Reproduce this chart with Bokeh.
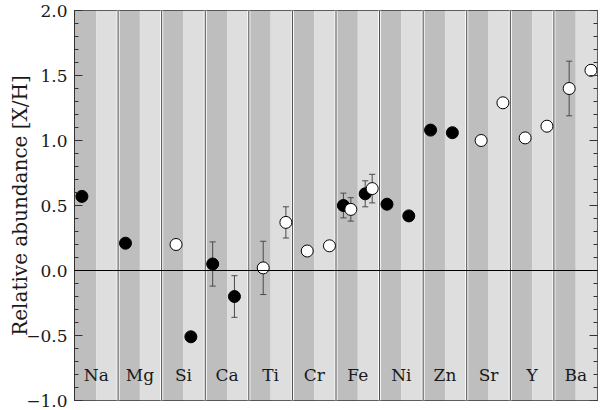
import numpy as np
from bokeh.plotting import figure
from bokeh.models import FixedTicker, Span, Range1d
from bokeh.core.properties import value
from bokeh.embed import file_html
from bokeh.resources import INLINE

# ---- data ----
elements = ["Na", "Mg", "Si", "Ca", "Ti", "Cr", "Fe", "Ni", "Zn", "Sr", "Y", "Ba"]

# filled (black) points: x in column units (element index + position inside column)
filled_x = [0.17, 1.17, 2.67, 3.17, 3.67, 6.17, 6.67, 7.17, 7.67, 8.17, 8.67]
filled_y = [0.57, 0.21, -0.51, 0.05, -0.20, 0.50, 0.59, 0.51, 0.42, 1.08, 1.06]
filled_err = [0.0, 0.0, 0.0, 0.17, 0.16, 0.095, 0.10, 0.0, 0.0, 0.0, 0.0]

# open (white) points
open_x = [2.33, 4.33, 4.85, 5.34, 5.85, 6.34, 6.83, 9.33, 9.83, 10.34, 10.84, 11.35, 11.85]
open_y = [0.20, 0.02, 0.37, 0.15, 0.19, 0.47, 0.63, 1.00, 1.29, 1.02, 1.11, 1.40, 1.54]
open_err = [0.0, 0.205, 0.12, 0.0, 0.0, 0.09, 0.11, 0.0, 0.0, 0.0, 0.0, 0.21, 0.0]

y_ticks = [-1.0, -0.5, 0.0, 0.5, 1.0, 1.5, 2.0]
y_tick_labels = ["\u22121.0", "\u22120.5", "0.0", "0.5", "1.0", "1.5", "2.0"]
y_minor = [round(v, 1) for v in np.arange(-1.0, 2.0001, 0.1)]
y_min, y_max = -1.0, 2.0
label_y = -0.80

DARK = "#bebebe"
LIGHT = "#dedede"
EDGE = "#333333"
FONT = "DejaVu Serif"

n = len(elements)
p = figure(width=600, height=410,
           x_range=Range1d(0, n), y_range=Range1d(y_min, y_max),
           output_backend="svg", toolbar_location=None,
           min_border_left=74, min_border_right=3, min_border_top=10, min_border_bottom=10,
           background_fill_color="white", border_fill_color="white")
p.xaxis.visible = False
p.xgrid.visible = False
p.ygrid.visible = False
p.outline_line_color = EDGE
p.outline_line_width = 1

idx = np.arange(n)

# column backgrounds
p.quad(left=idx, right=idx + 0.5, bottom=y_min, top=y_max,
       fill_color=DARK, line_color=None)
p.quad(left=idx + 0.5, right=idx + 1.0, bottom=y_min, top=y_max,
       fill_color=LIGHT, line_color=None)

# separators: white double line with dark center
p.segment(x0=idx[1:], y0=y_min, x1=idx[1:], y1=y_max, line_color="white", line_width=3)
p.segment(x0=idx[1:], y0=y_min, x1=idx[1:], y1=y_max, line_color="#444444", line_width=1)

# zero line
p.add_layout(Span(location=0, dimension="width", line_color="black", line_width=1))

# element labels
p.text(x=idx + 0.5, y=[label_y] * n, text=elements,
       text_font=value(FONT), text_font_size="17px", text_color="#1a1a1a",
       text_align="center", text_baseline="middle")

# error bars
cap = 0.07
ERRC = "#4a4a4a"
def errbars(xs, ys, es):
    xs = np.array(xs); ys = np.array(ys); es = np.array(es)
    m = es > 0
    x, y, e = xs[m], ys[m], es[m]
    p.segment(x0=x, y0=y - e, x1=x, y1=y + e, line_color=ERRC, line_width=1)
    p.segment(x0=x - cap, y0=y - e, x1=x + cap, y1=y - e, line_color=ERRC, line_width=1)
    p.segment(x0=x - cap, y0=y + e, x1=x + cap, y1=y + e, line_color=ERRC, line_width=1)

errbars(filled_x, filled_y, filled_err)
errbars(open_x, open_y, open_err)

p.scatter(filled_x, filled_y, marker="circle", size=12,
          fill_color="black", line_color="black", line_width=1)
p.scatter(open_x, open_y, marker="circle", size=12,
          fill_color="white", line_color="black", line_width=1)

# right-hand inward ticks (dash markers centred on the frame edge; outer half clipped)
p.scatter(x=[n] * len(y_ticks), y=y_ticks, marker="dash", size=16,
          line_color=EDGE, line_width=1)
p.scatter(x=[n] * len(y_minor), y=y_minor, marker="dash", size=8,
          line_color=EDGE, line_width=1)

# left y axis
ax = p.yaxis[0]
ax.ticker = FixedTicker(ticks=y_ticks, minor_ticks=y_minor)
ax.major_label_overrides = {t: l for t, l in zip(y_ticks, y_tick_labels)}
ax.major_label_text_font = FONT
ax.major_label_text_font_size = "17px"
ax.major_label_text_color = "#1a1a1a"
ax.major_label_standoff = 7
ax.major_tick_in = 8
ax.major_tick_out = 0
ax.minor_tick_in = 4
ax.minor_tick_out = 0
ax.axis_line_color = EDGE
ax.major_tick_line_color = EDGE
ax.minor_tick_line_color = EDGE
ax.axis_label = "Relative abundance [X/H]"
ax.axis_label_text_font = FONT
ax.axis_label_text_font_size = "20px"
ax.axis_label_text_font_style = "normal"
ax.axis_label_text_color = "#1a1a1a"
ax.axis_label_standoff = -9

open("out.html", "w").write(file_html(p, INLINE))
